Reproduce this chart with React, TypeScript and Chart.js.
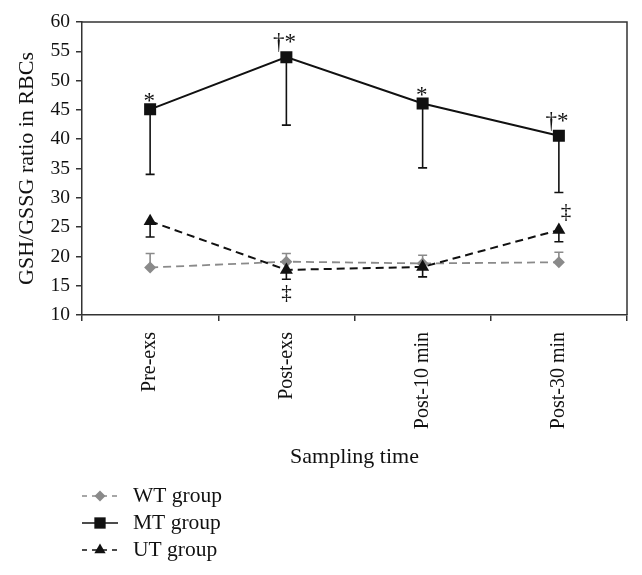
import React, { useEffect, useRef } from "react";
import { Chart, registerables } from "chart.js";

Chart.register(...registerables);

const categories = ["Pre-exs", "Post-exs", "Post-10 min", "Post-30 min"];
const wtValues = [18.1, 19.1, 18.8, 19.0];
const wtErr = [2.4, 1.4, 1.4, 1.7];
const mtValues = [45.1, 54.0, 46.1, 40.6];
const mtErr = [11.1, 11.6, 11.0, 9.7];
const utValues = [26.0, 17.7, 18.2, 24.5];
const utErr = [2.7, 1.6, 1.7, 2.0];
const mtMarks = ["*", "†*", "*", "†*"];
const utMarks = ["", "‡", "", "‡"];
const yMin = 10;
const yMax = 60;
const yStep = 5;
const legendLabels = ["WT group", "MT group", "UT group"];

const FONT = "'Liberation Serif', 'Times New Roman', serif";
const GREY = "#8a8a8a";
const INK = "#111111";

function drawMarker(ctx: CanvasRenderingContext2D, style: string, r: number, x: number, y: number, color: string) {
  ctx.save();
  ctx.fillStyle = color;
  ctx.beginPath();
  if (style === "rect") {
    const s = r * Math.SQRT1_2;
    ctx.rect(x - s, y - s, 2 * s, 2 * s);
  } else if (style === "rectRot") {
    ctx.moveTo(x, y - r);
    ctx.lineTo(x + r, y);
    ctx.lineTo(x, y + r);
    ctx.lineTo(x - r, y);
    ctx.closePath();
  } else {
    const h = (r * Math.sqrt(3)) / 2;
    ctx.moveTo(x, y - r);
    ctx.lineTo(x + h, y + r / 2);
    ctx.lineTo(x - h, y + r / 2);
    ctx.closePath();
  }
  ctx.fill();
  ctx.restore();
}

const decorPlugin = {
  id: "decor",
  beforeDatasetsDraw(chart: any) {
    const { ctx } = chart;
    const x = chart.scales.x;
    const y = chart.scales.y;
    const specs = [
      { vals: wtValues, errs: wtErr, dir: 1, color: GREY },
      { vals: mtValues, errs: mtErr, dir: -1, color: INK },
      { vals: utValues, errs: utErr, dir: -1, color: INK },
    ];
    ctx.save();
    for (const s of specs) {
      ctx.strokeStyle = s.color;
      ctx.lineWidth = 1.6;
      ctx.setLineDash([]);
      s.vals.forEach((v, i) => {
        const px = x.getPixelForValue(i);
        const p0 = y.getPixelForValue(v);
        const p1 = y.getPixelForValue(v + s.dir * s.errs[i]);
        ctx.beginPath();
        ctx.moveTo(px, p0);
        ctx.lineTo(px, p1);
        ctx.moveTo(px - 4.5, p1);
        ctx.lineTo(px + 4.5, p1);
        ctx.stroke();
      });
    }
    ctx.restore();
  },
  afterDraw(chart: any) {
    const { ctx, chartArea } = chart;
    const x = chart.scales.x;
    const y = chart.scales.y;
    ctx.save();
    // frame top & right
    ctx.strokeStyle = "#333";
    ctx.lineWidth = 1.5;
    ctx.beginPath();
    ctx.moveTo(chartArea.left, chartArea.top);
    ctx.lineTo(chartArea.right, chartArea.top);
    ctx.lineTo(chartArea.right, chartArea.bottom);
    ctx.stroke();
    // significance marks
    ctx.fillStyle = INK;
    ctx.font = `23px ${FONT}`;
    ctx.textAlign = "center";
    ctx.textBaseline = "alphabetic";
    mtMarks.forEach((m, i) => {
      if (!m) return;
      const px = x.getPixelForValue(i);
      const py = y.getPixelForValue(mtValues[i]);
      if (m.length > 1) ctx.fillText(m, px - 2, py - 8);
      else ctx.fillText(m, px - 1, py - 1);
    });
    ctx.font = `21px ${FONT}`;
    ctx.textBaseline = "middle";
    utMarks.forEach((m, i) => {
      if (!m) return;
      const px = x.getPixelForValue(i);
      const py = y.getPixelForValue(utValues[i]);
      if (i === 1) ctx.fillText(m, px, py + 24);
      else ctx.fillText(m, px + 7, py - 18);
    });
    // legend
    const rows = [
      { label: legendLabels[0], color: GREY, dash: [5, 5], style: "rectRot", r: 5.5 },
      { label: legendLabels[1], color: INK, dash: [], style: "rect", r: 8 },
      { label: legendLabels[2], color: INK, dash: [5, 5], style: "triangle", r: 6.5 },
    ];
    const rowY = [496, 523, 550];
    rows.forEach((r, i) => {
      const cy = rowY[i];
      ctx.strokeStyle = r.color;
      ctx.lineWidth = 1.6;
      ctx.setLineDash(r.dash);
      ctx.beginPath();
      ctx.moveTo(82, cy);
      ctx.lineTo(118, cy);
      ctx.stroke();
      ctx.setLineDash([]);
      drawMarker(ctx, r.style, r.r, 100, cy, r.color);
      ctx.fillStyle = INK;
      ctx.font = `21.5px ${FONT}`;
      ctx.textAlign = "left";
      ctx.textBaseline = "middle";
      ctx.fillText(r.label, 133, cy);
    });
    ctx.restore();
  },
};

export default function App() {
  const ref = useRef<HTMLCanvasElement>(null);
  useEffect(() => {
    document.body.style.margin = "0";
    const chart = new Chart(ref.current!, {
      type: "line",
      data: {
        labels: categories,
        datasets: [
          {
            label: legendLabels[0],
            data: wtValues,
            borderColor: GREY,
            backgroundColor: GREY,
            borderDash: [8, 5],
            borderWidth: 1.8,
            pointStyle: "rectRot",
            pointRadius: 6,
            pointBorderWidth: 0,
            order: 3,
          },
          {
            label: legendLabels[1],
            data: mtValues,
            borderColor: INK,
            backgroundColor: INK,
            borderWidth: 2,
            pointStyle: "rect",
            pointRadius: 8.5,
            pointBorderWidth: 0,
            order: 2,
          },
          {
            label: legendLabels[2],
            data: utValues,
            borderColor: INK,
            backgroundColor: INK,
            borderDash: [8, 5],
            borderWidth: 2,
            pointStyle: "triangle",
            pointRadius: 7.5,
            pointBorderWidth: 0,
            order: 1,
          },
        ],
      },
      options: {
        responsive: false,
        devicePixelRatio: 1,
        animation: false,
        layout: { padding: { left: 14, right: 15, top: 22, bottom: 105 } },
        plugins: { legend: { display: false }, tooltip: { enabled: false } },
        scales: {
          x: {
            type: "category",
            offset: true,
            grid: { offset: true, drawOnChartArea: false, tickLength: 6, color: "#333", lineWidth: 1.5 },
            border: { color: "#333", width: 1.5 },
            ticks: {
              minRotation: 90,
              maxRotation: 90,
              color: INK,
              padding: 11,
              font: { family: FONT, size: 20 },
            },
            title: {
              display: true,
              text: "Sampling time",
              color: INK,
              font: { family: FONT, size: 22 },
              padding: { top: 4, bottom: 0 },
            },
            afterFit: (s: any) => {
              s.height = 575 - 105 - 315;
            },
          },
          y: {
            min: yMin,
            max: yMax,
            grid: { drawOnChartArea: false, tickLength: 6, color: "#333", lineWidth: 1.5 },
            border: { color: "#333", width: 1.5 },
            ticks: {
              stepSize: yStep,
              color: INK,
              padding: 6,
              font: { family: FONT, size: 19.5 },
            },
            title: {
              display: true,
              text: "GSH/GSSG ratio in RBCs",
              color: INK,
              font: { family: FONT, size: 22 },
              padding: 0,
            },
            afterFit: (s: any) => {
              s.width = 82 - 14;
            },
          },
        },
      },
      plugins: [decorPlugin],
    } as any);
    return () => chart.destroy();
  }, []);
  return (
    <div style={{ position: "absolute", left: 0, top: 0, width: 642, height: 575 }}>
      <canvas ref={ref} width={642} height={575} />
    </div>
  );
}
